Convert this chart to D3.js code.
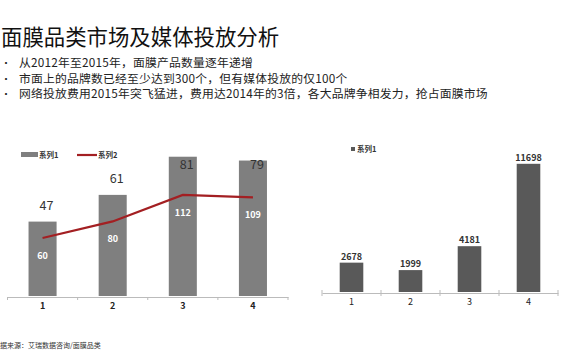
<!DOCTYPE html>
<html><head><meta charset="utf-8">
<script src="https://cdn.jsdelivr.net/npm/d3@7/dist/d3.min.js"></script>
<style>body{margin:0;background:#fff}svg{display:block}</style>
</head><body>
<svg id="c" width="570" height="360"></svg>
<script>
const title = "面膜品类市场及媒体投放分析";
const bullets = [
  "从2012年至2015年，面膜产品数量逐年递增",
  "市面上的品牌数已经至少达到300个，但有媒体投放的仅100个",
  "网络投放费用2015年突飞猛进，费用达2014年的3倍，各大品牌争相发力，抢占面膜市场"
];
const source = "数据来源：艾瑞数据咨询/面膜品类";
const categories = ["1", "2", "3", "4"];
const series1 = [47, 61, 81, 79];
const series2 = [60, 80, 112, 109];
const rightCategories = ["1", "2", "3", "4"];
const rightSeries = [2678, 1999, 4181, 11698];
const legendNames = ["系列1", "系列2"];

const font = "'Noto Sans CJK SC','Noto Sans',sans-serif";
const svg = d3.select("#c");

svg.append("text").attr("x", 1).attr("y", 45).attr("font-family", font)
  .attr("font-size", 21.4).attr("fill", "#111").text(title);

bullets.forEach((t, i) => {
  const y = 67 + i * 15.5;
  svg.append("text").attr("x", 1).attr("y", y).attr("font-family", font).attr("font-size", 10).attr("fill", "#222").text("•");
  svg.append("text").attr("x", 19).attr("y", y).attr("font-family", font).attr("font-size", 11.8)
    .attr("letter-spacing", 0.2).attr("fill", "#222").text(t);
});

svg.append("text").attr("x", -7).attr("y", 348).attr("font-family", font)
  .attr("font-size", 7).attr("fill", "#333").text(source);

// Left chart
const xL = d3.scaleBand().domain(categories).range([7.5, 288]).paddingInner(0.6).paddingOuter(0.3);
const yL = d3.scaleLinear().domain([8, 84]).range([296, 151]);
const yL2 = d3.scaleLinear().domain([-10, 165]).range([296, 151]);
const gL = svg.append("g");
gL.selectAll("rect.b").data(series1).join("rect")
  .attr("x", (d, i) => xL(categories[i])).attr("width", xL.bandwidth())
  .attr("y", d => yL(d)).attr("height", d => yL(8) - yL(d)).attr("fill", "#7f7f7f");
const axLg = gL.append("g").attr("transform", "translate(0,297)").call(d3.axisBottom(xL).tickSize(0).tickPadding(6));
axLg.select(".domain").attr("stroke", "#bbb");
axLg.selectAll("text").attr("font-family", font).attr("font-size", 9).attr("font-weight", "bold").attr("fill", "#222");
gL.selectAll("line.t").data(d3.range(5)).join("line")
  .attr("x1", i => 7.5 + i * (280.5 / 4)).attr("x2", i => 7.5 + i * (280.5 / 4))
  .attr("y1", 297).attr("y2", 300).attr("stroke", "#bbb");
gL.selectAll("text.v1").data(series1).join("text")
  .attr("x", (d, i) => xL(categories[i]) + xL.bandwidth() / 2 + 4)
  .attr("y", d => Math.max(yL(d) - 12, 169))
  .attr("text-anchor", "middle").attr("font-family", font).attr("font-size", 12.5).attr("fill", "#333").text(d => d);
const line = d3.line().x((d, i) => xL(categories[i]) + xL.bandwidth() / 2).y(d => yL2(d));
gL.append("path").datum(series2).attr("d", line).attr("fill", "none").attr("stroke", "#a31f22").attr("stroke-width", 2.2);
gL.selectAll("text.v2").data(series2).join("text")
  .attr("x", (d, i) => xL(categories[i]) + xL.bandwidth() / 2)
  .attr("y", d => yL2(d) + 21)
  .attr("text-anchor", "middle").attr("font-family", font).attr("font-size", 9).attr("font-weight", "bold").attr("fill", "#fff").text(d => d);
// Left legend
gL.append("rect").attr("x", 21).attr("y", 152).attr("width", 17).attr("height", 5).attr("fill", "#7f7f7f");
gL.append("text").attr("x", 39).attr("y", 158).attr("font-family", font).attr("font-size", 7.5).attr("font-weight", "bold").attr("fill", "#333").text(legendNames[0]);
gL.append("line").attr("x1", 77).attr("x2", 97).attr("y1", 155).attr("y2", 155).attr("stroke", "#a31f22").attr("stroke-width", 2.2);
gL.append("text").attr("x", 98).attr("y", 158).attr("font-family", font).attr("font-size", 7.5).attr("font-weight", "bold").attr("fill", "#333").text(legendNames[1]);

// Right chart
const xR = d3.scaleBand().domain(rightCategories).range([322, 558]).paddingInner(0.6).paddingOuter(0.3);
const yR = d3.scaleLinear().domain([0, 12000]).range([292, 160.5]);
const gR = svg.append("g");
gR.selectAll("rect").data(rightSeries).join("rect")
  .attr("x", (d, i) => xR(rightCategories[i])).attr("width", xR.bandwidth())
  .attr("y", d => yR(d)).attr("height", d => yR(0) - yR(d)).attr("fill", "#595959");
const axRg = gR.append("g").attr("transform", "translate(0,293)").call(d3.axisBottom(xR).tickSize(0).tickPadding(6));
axRg.select(".domain").attr("stroke", "#bbb");
axRg.selectAll("text").attr("font-family", font).attr("font-size", 9).attr("fill", "#222");
gR.selectAll("line.t").data(d3.range(5)).join("line")
  .attr("x1", i => 322 + i * 59).attr("x2", i => 322 + i * 59)
  .attr("y1", 290).attr("y2", 296).attr("stroke", "#bbb");
gR.selectAll("text.v").data(rightSeries).join("text")
  .attr("x", (d, i) => xR(rightCategories[i]) + xR.bandwidth() / 2)
  .attr("y", d => yR(d) - 3)
  .attr("text-anchor", "middle").attr("font-family", font).attr("font-size", 9).attr("font-weight", "bold").attr("fill", "#333").text(d => d);
gR.append("rect").attr("x", 351).attr("y", 147).attr("width", 4).attr("height", 4).attr("fill", "#595959");
gR.append("text").attr("x", 357).attr("y", 152).attr("font-family", font).attr("font-size", 7.5).attr("font-weight", "bold").attr("fill", "#333").text(legendNames[0]);
</script>
</body></html>
